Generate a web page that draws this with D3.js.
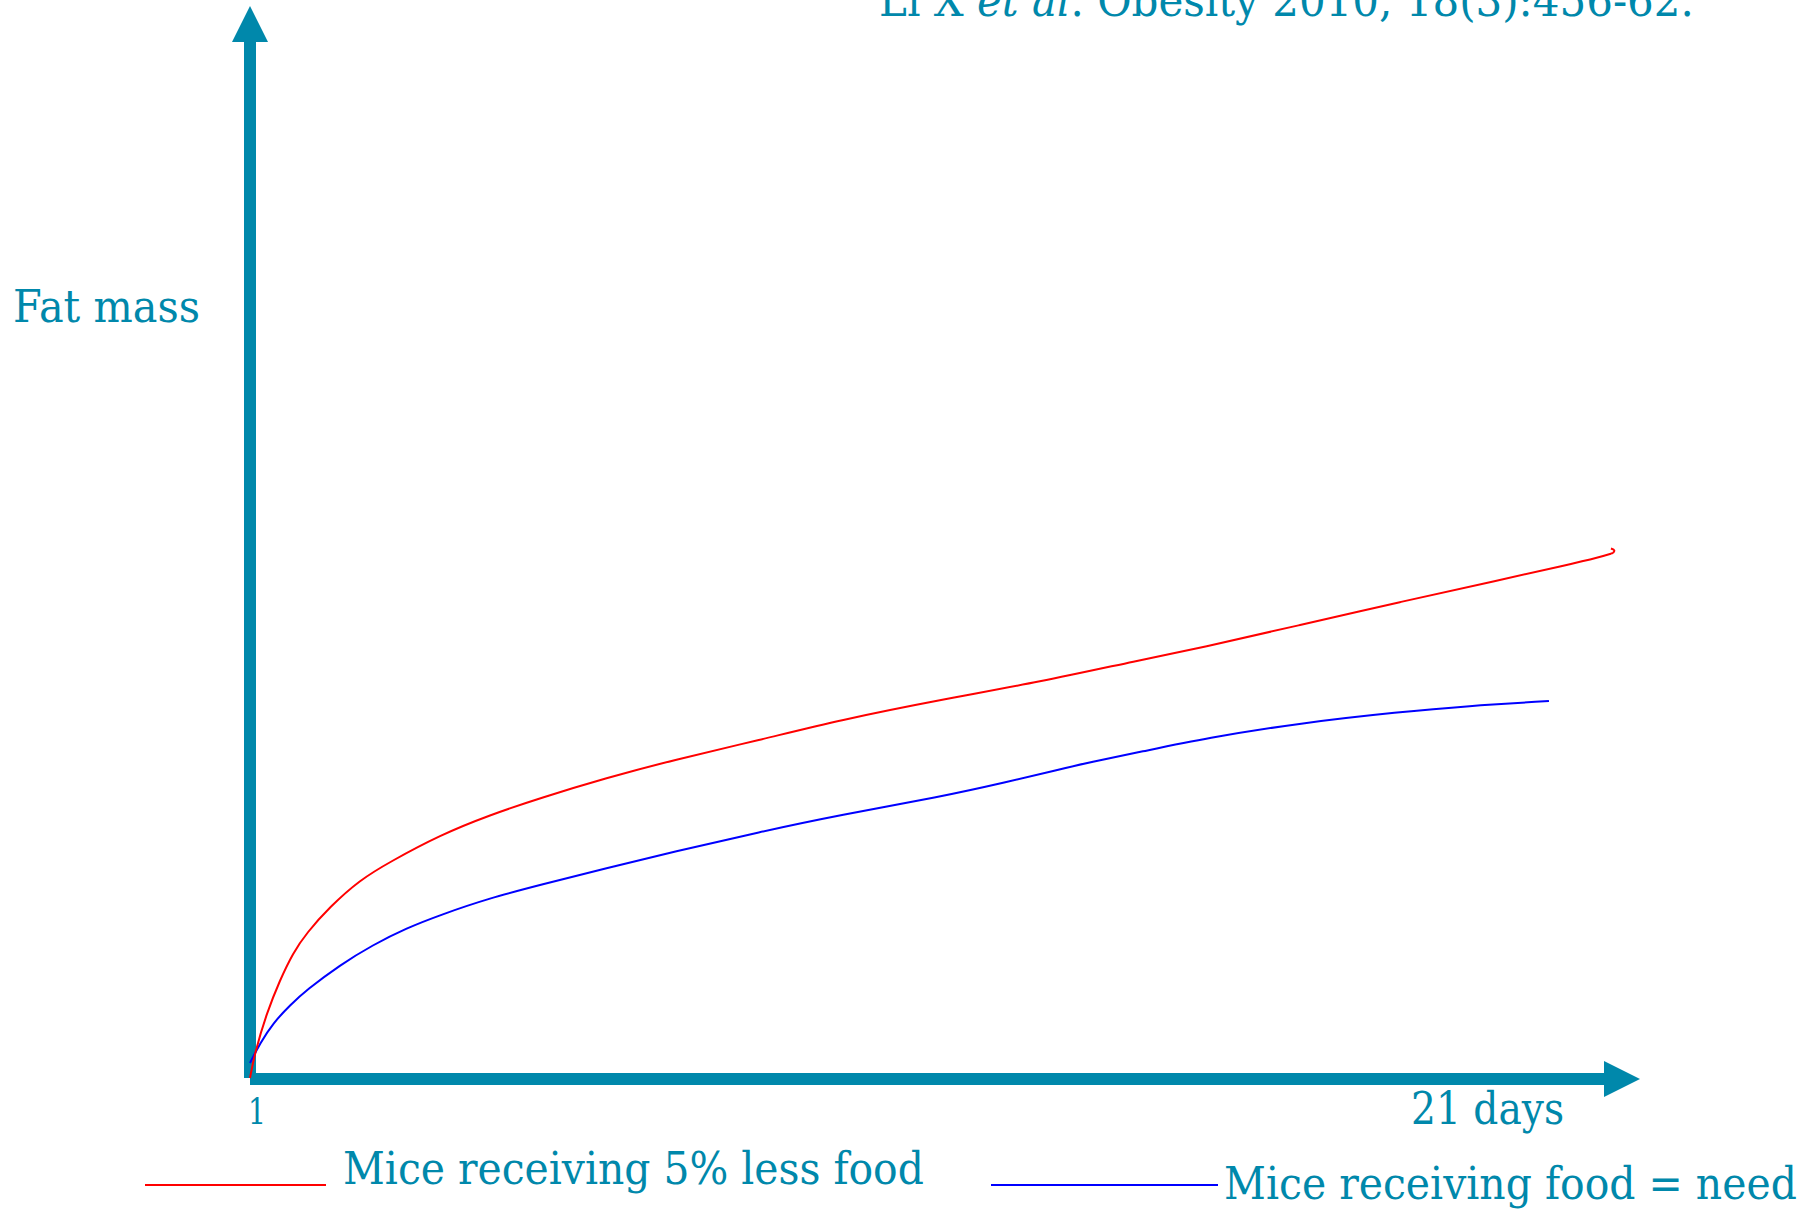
<!DOCTYPE html>
<html>
<head>
<meta charset="utf-8">
<script src="https://cdn.jsdelivr.net/npm/d3@7"></script>
<style>
  html, body { margin: 0; padding: 0; background: #ffffff; }
  svg { display: block; }
</style>
</head>
<body>
<script>
// ---------------- DATA ----------------
const seriesNames = ["Mice receiving 5% less food", "Mice receiving food = need"];
const seriesColors = ["#ff0000", "#0000ff"];

const redDays   = [1, 1.07, 1.245, 1.44, 1.63, 1.83, 2.17, 2.61, 3.05, 3.79, 4.52, 5.26, 6.23, 7.21, 8.48, 9.66, 11.12, 12.59, 14.06, 14.94, 16.41, 17.87, 19.34, 20.32, 20.81, 21.0];
const redFat    = [0, 2.5, 6.5, 9.8, 12.5, 14.5, 17.1, 19.8, 21.6, 24.3, 26.3, 28.0, 30.0, 31.8, 33.8, 35.8, 37.8, 39.6, 41.8, 43.0, 45.3, 47.6, 49.8, 51.3, 52.1, 52.5];
// small curl at the very end of the red trace
const redTailDays = [21.0, 21.02, 20.97];
const redTailFat  = [52.5, 52.75, 52.95];

const blueDays  = [1, 1.15, 1.34, 1.59, 1.83, 2.32, 2.80, 3.30, 3.79, 4.52, 5.26, 6.23, 7.21, 8.48, 9.66, 11.12, 12.11, 12.84, 13.33, 14.06, 15.04, 16.41, 17.87, 18.86, 20.06];
const blueFat   = [1.5, 3.5, 5.5, 7.3, 8.8, 11.3, 13.3, 15.0, 16.3, 18.0, 19.3, 21.0, 22.6, 24.6, 26.3, 28.1, 29.6, 30.8, 31.6, 32.6, 34.0, 35.5, 36.6, 37.2, 37.7];

const xTickLabels = ["1", "21 days"];
const yAxisLabel = "Fat mass";
const citation = ["Li X ", "et al", ". Obesity 2010, 18(3):456-62."];

// ---------------- LAYOUT ----------------
const W = 1816, H = 1210;
const teal = "#0088ab";
const fontFam = "'DejaVu Serif', 'Liberation Serif', serif";

const svg = d3.select("body").append("svg").attr("width", W).attr("height", H);

const x = d3.scaleLinear().domain([1, 21]).range([250, 1613]);
const y = d3.scaleLinear().domain([0, 100]).range([1078, 78]);

function fitText(sel, x0, baseline, w) {
  const bb = sel.node().getBBox();
  const s = w / bb.width;
  sel.attr("x", 0).attr("y", 0)
     .attr("transform", `translate(${x0 - bb.x * s},${baseline}) scale(${s},1)`);
}

// ---------------- AXES (arrows) ----------------
const axisG = svg.append("g");
const x0 = x.range()[0];
const yBase = y.range()[0];
const axisW = 12;
const head = 36, halfHead = 18;
const yTip = 6;
const xTip = x.range()[1] + 27;

axisG.append("rect")
  .attr("x", x0 - axisW / 2).attr("y", yTip + head)
  .attr("width", axisW).attr("height", yBase - (yTip + head))
  .attr("fill", teal);
axisG.append("path")
  .attr("d", `M${x0},${yTip} L${x0 + halfHead},${yTip + head} L${x0 - halfHead},${yTip + head} Z`)
  .attr("fill", teal);
axisG.append("rect")
  .attr("x", x0).attr("y", yBase + 1 - axisW / 2)
  .attr("width", xTip - head - x0).attr("height", axisW)
  .attr("fill", teal);
axisG.append("path")
  .attr("d", `M${xTip},${yBase + 1} L${xTip - head},${yBase + 1 - halfHead} L${xTip - head},${yBase + 1 + halfHead} Z`)
  .attr("fill", teal);

// ---------------- LINES ----------------
const smooth = d3.line()
  .x(d => x(d[0]))
  .y(d => y(d[1]))
  .curve(d3.curveBasis);
const tailLine = d3.line()
  .x(d => x(d[0]))
  .y(d => y(d[1]))
  .curve(d3.curveCatmullRom.alpha(0.5));

const redData = redDays.map((d, i) => [d, redFat[i]]);
const redTail = redTailDays.map((d, i) => [d, redTailFat[i]]);
const blueData = blueDays.map((d, i) => [d, blueFat[i]]);

svg.append("path").datum(blueData)
  .attr("d", smooth).attr("fill", "none")
  .attr("stroke", seriesColors[1]).attr("stroke-width", 2);
svg.append("path").datum(redData)
  .attr("d", smooth).attr("fill", "none")
  .attr("stroke", seriesColors[0]).attr("stroke-width", 2);
svg.append("path").datum(redTail)
  .attr("d", tailLine).attr("fill", "none")
  .attr("stroke", seriesColors[0]).attr("stroke-width", 2);

// ---------------- TEXT ----------------
function addText(str, x0, baseline, w, size) {
  const t = svg.append("text")
    .attr("font-family", fontFam)
    .attr("font-size", size)
    .attr("fill", teal)
    .text(str);
  fitText(t, x0, baseline, w);
  return t;
}

addText(yAxisLabel, 13, 322, 187, 44);
addText(xTickLabels[0], 248, 1124, 18, 36);
addText(xTickLabels[1], 1411, 1124, 153, 44);

const legend = [
  { lx1: 145, lx2: 326, ly: 1185, tx: 343, tb: 1184, tw: 581 },
  { lx1: 991, lx2: 1218, ly: 1185, tx: 1224, tb: 1199, tw: 573 }
];
legend.forEach((L, i) => {
  svg.append("line")
    .attr("x1", L.lx1).attr("x2", L.lx2)
    .attr("y1", L.ly).attr("y2", L.ly)
    .attr("stroke", seriesColors[i]).attr("stroke-width", 2);
  addText(seriesNames[i], L.tx, L.tb, L.tw, 44);
});

const cit = svg.append("text")
  .attr("font-family", fontFam)
  .attr("font-size", 44)
  .attr("fill", teal);
cit.append("tspan").text(citation[0]);
cit.append("tspan").attr("font-style", "italic").text(citation[1]);
cit.append("tspan").text(citation[2]);
fitText(cit, 879, 16, 815);
</script>
</body>
</html>
